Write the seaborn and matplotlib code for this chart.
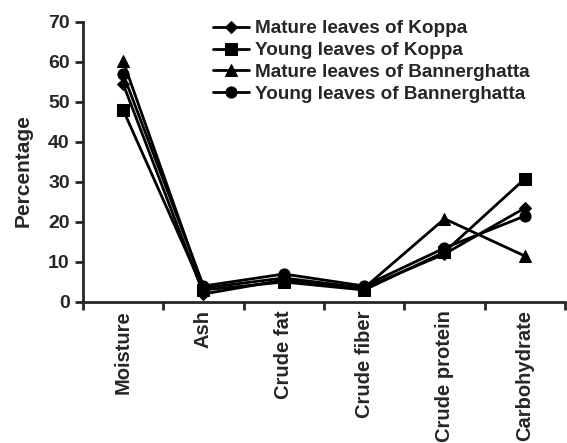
import pandas as pd
import matplotlib
matplotlib.use("Agg")
import matplotlib.pyplot as plt
import seaborn as sns

components = ["Moisture", "Ash", "Crude fat", "Crude fiber", "Crude protein", "Carbohydrate"]
mature_koppa = [54.5, 2.0, 5.5, 3.5, 12.0, 23.5]
young_koppa = [48.0, 3.0, 5.0, 3.0, 12.5, 30.8]
mature_bannerghatta = [60.2, 3.5, 6.0, 3.5, 20.8, 11.5]
young_bannerghatta = [57.0, 4.0, 7.0, 4.0, 13.5, 21.5]

series = {
    "Mature leaves of Koppa": mature_koppa,
    "Young leaves of Koppa": young_koppa,
    "Mature leaves of Bannerghatta": mature_bannerghatta,
    "Young leaves of Bannerghatta": young_bannerghatta,
}

rows = []
for name, vals in series.items():
    for comp, v in zip(components, vals):
        rows.append({"component": comp, "value": v, "sample": name})
df = pd.DataFrame(rows)

sns.set_style("ticks")
plt.rcParams['font.family'] = ['Liberation Sans', 'DejaVu Sans']
plt.rcParams['font.weight'] = 'bold'

fig = plt.figure(figsize=(5.67, 4.43), dpi=100)
ax = fig.add_axes([83 / 567, 1 - 302 / 443, 482 / 567, 280 / 443])

sns.lineplot(data=df, x="component", y="value", style="sample", hue="sample",
             palette=["black"] * 4, markers=["D", "s", "^", "o"], dashes=False,
             markersize=8, linewidth=2, markeredgecolor="black", sort=False, ax=ax)

# diamonds look smaller in the original
for line in ax.lines:
    if line.get_marker() == "D":
        line.set_markersize(6)

ax.set_xlim(-0.5, 5.5)
ax.set_ylim(0, 70)
ax.set_yticks(range(0, 71, 10))
ax.set_xticks(range(len(components)))
ax.set_xticklabels(components, rotation=90, fontsize=14.5, fontweight='bold')
ax.set_xticks([i - 0.5 for i in range(len(components) + 1)], minor=True)
ax.tick_params(axis='x', which='major', length=0, pad=6)
ax.tick_params(axis='x', which='minor', length=6, width=2)
ax.tick_params(axis='y', length=6, width=2, labelsize=14)
for lbl in ax.get_yticklabels():
    lbl.set_fontweight('bold')
ax.set_xlabel("")
ax.set_ylabel("Percentage", fontsize=15, fontweight='bold')
ax.yaxis.set_label_coords(-0.104, 0.47)
sns.despine(ax=ax)
ax.spines['left'].set_linewidth(2)
ax.spines['bottom'].set_linewidth(2)

leg = ax.legend(frameon=False, loc='upper left', bbox_to_anchor=(213 / 567, 1 - 20 / 443),
                bbox_transform=fig.transFigure, fontsize=13.6, handlelength=1.9,
                handletextpad=0.3, labelspacing=0.25, borderaxespad=0, borderpad=0)
for h in leg.legend_handles:
    if h.get_marker() == "D":
        h.set_markersize(6)

fig.savefig("out.png", dpi=100)
